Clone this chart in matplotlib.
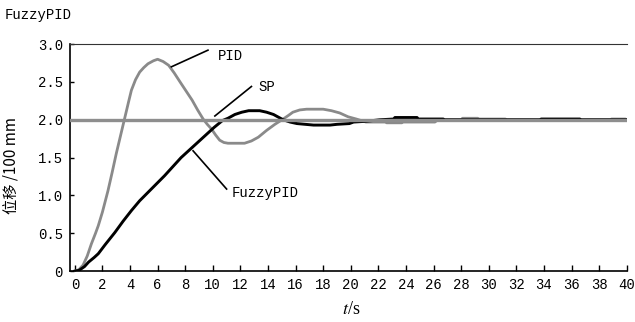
import numpy as np
import matplotlib
matplotlib.use('Agg')
import matplotlib.pyplot as plt

plt.rcParams['mathtext.fontset'] = 'stix'

# 读图得到的数据 (t/s, 位移/100 mm)
pid_t = [0, 0.3, 0.6, 0.9, 1.2, 1.5, 1.7, 2.0, 2.4, 2.7, 3.0, 3.3, 3.6, 3.9, 4.1, 4.4, 4.7, 5.0, 5.3, 5.7,
         6.0, 6.4, 6.8, 7.2, 7.7, 8.1, 8.5, 8.9, 9.3, 9.6, 9.9, 10.2, 10.5, 10.8, 11.1, 12.3, 12.8, 13.3,
         13.9, 14.5, 15.1, 15.5, 15.8, 16.3, 16.8, 18.0, 18.6, 19.2, 19.8, 20.4, 21.1, 22.5, 22.6, 23.7,
         23.8, 26.1, 26.3, 28.0, 28.1, 29.2, 29.3, 31.2, 31.3, 38.8, 38.9, 39.9, 40]
pid_y = [0, 0.02, 0.08, 0.20, 0.36, 0.50, 0.60, 0.78, 1.06, 1.30, 1.55, 1.78, 2.01, 2.24, 2.39, 2.53, 2.63,
         2.69, 2.74, 2.78, 2.80, 2.77, 2.72, 2.62, 2.48, 2.37, 2.26, 2.13, 2.01, 1.94, 1.88, 1.80, 1.73,
         1.70, 1.69, 1.69, 1.72, 1.77, 1.86, 1.94, 2.01, 2.06, 2.10, 2.13, 2.14, 2.14, 2.12, 2.09, 2.04,
         2.01, 1.97, 1.97, 1.96, 1.96, 1.97, 1.97, 2.00, 2.00, 2.02, 2.02, 2.01, 2.01, 2.00, 2.00, 2.01,
         2.01, 2.00]

fuzzy_t = [0, 0.3, 0.7, 1.0, 1.4, 1.7, 2.2, 2.9, 3.5, 4.1, 4.7, 5.3, 5.9, 6.5, 7.1, 7.7, 8.3, 8.9, 9.5,
           10.1, 10.7, 11.1, 11.6, 12.1, 12.6, 13.4, 13.9, 14.4, 15.1, 15.6, 16.1, 17.3, 18.5, 19.0, 19.9,
           20.2, 21.1, 22.1, 23.1, 23.2, 24.8, 24.9, 26.7, 26.8, 33.7, 33.8, 36.6, 36.7, 40]
fuzzy_y = [0, 0.01, 0.06, 0.12, 0.18, 0.23, 0.35, 0.51, 0.66, 0.80, 0.93, 1.04, 1.15, 1.26, 1.38, 1.50,
           1.60, 1.70, 1.80, 1.90, 1.99, 2.02, 2.07, 2.10, 2.12, 2.12, 2.10, 2.07, 2.00, 1.97, 1.95, 1.93,
           1.93, 1.94, 1.95, 1.97, 1.98, 2.00, 2.01, 2.03, 2.03, 2.01, 2.01, 2.00, 2.00, 2.01, 2.01, 2.00,
           2.00]

sp_value = 2.0

x_ticks = np.arange(0, 41, 2)
y_ticks = [0, 0.5, 1.0, 1.5, 2.0, 2.5, 3.0]
y_ticklabels = ['0', '0.5', '1.0', '1.5', '2.0', '2.5', '3.0']

mono = 'Liberation Mono'

fig = plt.figure(figsize=(6.35, 3.22), dpi=100)
ax = fig.add_axes([0.110, 0.158, 0.877, 0.705])

ax.plot(pid_t, pid_y, color='#8a8a8a', lw=2.0, zorder=2)
ax.plot(fuzzy_t, fuzzy_y, color='black', lw=2.1, zorder=3)
ax.axhline(sp_value, color='#8e8e8e', lw=2.4, zorder=4)

# 引线和标注
ax.plot([7.0, 9.65], [2.70, 2.92], color='black', lw=1.2)
ax.text(10.35, 2.84, 'PID', fontsize=10, family=mono, va='center')
ax.plot([10.15, 12.8], [2.05, 2.44], color='black', lw=1.2)
ax.text(13.3, 2.43, 'SP', fontsize=10, family=mono, va='center')
ax.plot([8.57, 11.0], [1.59, 1.085], color='black', lw=1.2)
ax.text(11.35, 1.03, 'FuzzyPID', fontsize=10, family=mono, va='center')

ax.set_xlim(-0.36, 40)
ax.set_ylim(0, 3.0)
ax.set_xticks(x_ticks)
ax.set_xticklabels([str(v) for v in x_ticks], family=mono, fontsize=10)
ax.set_yticks(y_ticks)
ax.set_yticklabels(y_ticklabels, family=mono, fontsize=10)
ax.tick_params(axis='x', direction='in', length=4, width=1, pad=5)
ax.tick_params(axis='y', direction='in', length=3, width=1, pad=5)

ax.spines['right'].set_visible(False)
ax.spines['top'].set_color('#333333')
for s in ['left', 'bottom']:
    ax.spines[s].set_linewidth(1.2)

ax.set_ylabel('位移 /100 mm', family=['Noto Sans CJK SC', 'DejaVu Sans'], fontsize=11)
ax.yaxis.set_label_coords(-0.09, 0.467)
ax.set_xlabel('$t$/s', fontsize=13, family='Liberation Serif')
ax.xaxis.label.set_va('center')
ax.xaxis.set_label_coords(0.505, -0.17)

fig.text(0.008, 0.953, 'FuzzyPID', family=mono, fontsize=10, va='center')

fig.savefig('out.png', dpi=100)
